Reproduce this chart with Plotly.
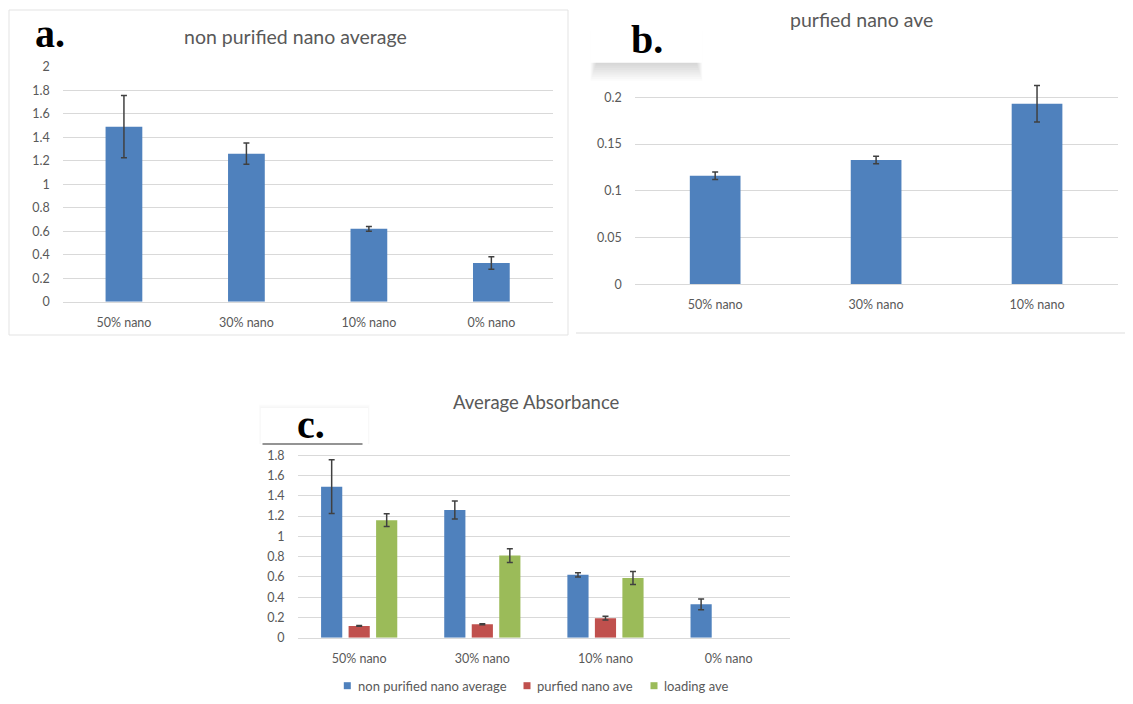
import plotly.graph_objects as go

# ---------------- data ----------------
cats4 = ["50% nano", "30% nano", "10% nano", "0% nano"]
cats3 = ["50% nano", "30% nano", "10% nano"]

non_purified_avg = [1.49, 1.26, 0.62, 0.33]
non_purified_err = [0.265, 0.09, 0.02, 0.053]

purified_avg = [0.116, 0.133, 0.193]
purified_err = [0.004, 0.004, 0.0195]

purified_avg_c = [0.116, 0.133, 0.193, None]
purified_err_c = [0.004, 0.004, 0.0195, None]

loading_avg = [1.16, 0.81, 0.59, None]
loading_err = [0.063, 0.067, 0.064, None]

series_names = ["non purified nano average", "purfied nano ave", "loading ave"]
titles = ["non purified nano average", "purfied nano ave", "Average Absorbance"]
panel_labels = ["a.", "b.", "c."]

# ---------------- style ----------------
W, H = 1133, 704
OFF = 8  # page body margin
BLUE, RED, GREEN = "#4F81BD", "#C0504D", "#9BBB59"
GRID = "#D9D9D9"
TXT = "#595959"
ERR = "#404040"
FONT = "Lato"
SERIF = "Liberation Serif"


def px(x):
    return (x - OFF) / W


def py(y):
    return 1 - (y - OFF) / H


def err(arr, width=3):
    return dict(type="data", array=arr, visible=True, color=ERR, thickness=1.5, width=width)


fig = go.Figure()

# panel a
fig.add_trace(go.Bar(x=cats4, y=non_purified_avg, error_y=err(non_purified_err), marker_color=BLUE,
                     width=0.30, xaxis="x", yaxis="y", showlegend=False, name=series_names[0]))
# panel b
fig.add_trace(go.Bar(x=cats3, y=purified_avg, error_y=err(purified_err), marker_color=BLUE,
                     width=0.315, xaxis="x2", yaxis="y2", showlegend=False, name=series_names[1]))
# panel c
fig.add_trace(go.Bar(x=cats4, y=non_purified_avg, error_y=err(non_purified_err), marker_color=BLUE,
                     xaxis="x3", yaxis="y3", showlegend=False, name=series_names[0]))
fig.add_trace(go.Bar(x=cats4, y=purified_avg_c, error_y=err(purified_err_c), marker_color=RED,
                     xaxis="x3", yaxis="y3", showlegend=False, name=series_names[1]))
fig.add_trace(go.Bar(x=cats4, y=loading_avg, error_y=err(loading_err), marker_color=GREEN,
                     xaxis="x3", yaxis="y3", showlegend=False, name=series_names[2]))
fig.update_traces(marker_line_width=0)

tickfont = dict(family=FONT, size=12.5, color=TXT)


def xax(x0, x1, anchor):
    return dict(domain=[px(x0), px(x1)], anchor=anchor, showgrid=False, showline=True,
                linecolor=GRID, linewidth=1, tickfont=tickfont, ticks="", ticklabelstandoff=9,
                fixedrange=True, zeroline=False, automargin=False)


def yax(y0, y1, rng, dt, anchor):
    return dict(domain=[py(y1), py(y0)], anchor=anchor, range=rng, dtick=dt, tick0=0,
                showgrid=True, gridcolor=GRID, gridwidth=1, zeroline=False, showline=False,
                tickfont=tickfont, ticks="", ticklabelstandoff=12, fixedrange=True, automargin=False)


fig.update_layout(
    width=W, height=H, margin=dict(l=0, r=0, t=0, b=0),
    paper_bgcolor="white", plot_bgcolor="white",
    barmode="group", bargap=0.33, bargroupgap=0.23,
    xaxis=xax(62.7, 552.6, "y"),
    yaxis=yax(66.7, 301.7, [0, 2], 0.2, "x"),
    xaxis2=xax(634.7, 1117.5, "y2"),
    yaxis2=yax(50.5, 284.3, [0, 0.25], 0.05, "x2"),
    xaxis3=xax(297.6, 790.2, "y3"),
    yaxis3=yax(435, 637.7, [0, 2], 0.2, "x3"),
    showlegend=False,
)

shapes = []
annotations = []

# panel a border
shapes.append(dict(type="rect", xref="paper", yref="paper", x0=px(9), x1=px(568), y0=py(335), y1=py(10),
                   line=dict(color="#E3E3E3", width=1), fillcolor="rgba(0,0,0,0)", layer="below"))
# panel b bottom border
shapes.append(dict(type="line", xref="paper", yref="paper", x0=px(576), x1=px(1133), y0=py(333), y1=py(333),
                   line=dict(color="#E8E8E8", width=1.5)))

# b. box soft shadow + box
bx0, by0, bx1, by1 = 590.5, 26.7, 702.4, 62.7
for i in range(1, 11):
    shapes.append(dict(type="rect", xref="paper", yref="paper", x0=px(bx0 + 6 - i * 0.6), x1=px(bx1 - 6 + i * 0.6),
                       y0=py(by1 + i * 1.8), y1=py(by0 + 4), line=dict(width=0),
                       fillcolor="rgba(0,0,0,0.014)", layer="above"))
shapes.append(dict(type="rect", xref="paper", yref="paper", x0=px(bx0), x1=px(bx1), y0=py(by1), y1=py(by0),
                   line=dict(width=0), fillcolor="white", layer="above"))

# c. box shadow + box
cx0, cy0, cx1, cy1 = 260.7, 408, 368, 444
for i in range(1, 4):
    shapes.append(dict(type="rect", xref="paper", yref="paper", x0=px(cx0 - i * 0.6), x1=px(cx1 + i * 0.6),
                       y0=py(cy1), y1=py(cy0 - i * 1.2), line=dict(width=0),
                       fillcolor="rgba(0,0,0,0.012)", layer="above"))
shapes.append(dict(type="rect", xref="paper", yref="paper", x0=px(cx0), x1=px(cx1), y0=py(cy1), y1=py(cy0),
                   line=dict(width=0), fillcolor="white", layer="above"))
shapes.append(dict(type="line", xref="paper", yref="paper", x0=px(262.5), x1=px(362.5), y0=py(444), y1=py(444),
                   line=dict(color="#707070", width=1.5), layer="above"))

# titles
for (tx, ty), t, fs in zip([(295, 36), (861, 19), (536, 402)], titles, [19.5, 19.5, 18.5]):
    annotations.append(dict(text=t, x=px(tx), y=py(ty), xref="paper", yref="paper", showarrow=False,
                            xanchor="center", yanchor="middle",
                            font=dict(family=FONT, size=fs, color=TXT)))

# panel labels
for (lx, ly), t in zip([(50, 33), (647, 40), (311, 424)], panel_labels):
    annotations.append(dict(text="<b>" + t + "</b>", x=px(lx), y=py(ly), xref="paper", yref="paper",
                            showarrow=False, xanchor="center", yanchor="middle",
                            font=dict(family=SERIF, size=40, color="black")))

# manual legend for panel c
leg_y = 685.7
for sq_x, tx_x, col, name in zip([347.3, 527, 654], [355.5, 535, 662], [BLUE, RED, GREEN], series_names):
    shapes.append(dict(type="rect", xref="paper", yref="paper", x0=px(sq_x - 3.5), x1=px(sq_x + 3.5),
                       y0=py(leg_y + 3.5), y1=py(leg_y - 3.5), line=dict(width=0), fillcolor=col))
    annotations.append(dict(text=name, x=px(tx_x), y=py(leg_y), xref="paper", yref="paper", showarrow=False,
                            xanchor="left", yanchor="middle", font=dict(family=FONT, size=13, color=TXT)))

fig.update_layout(shapes=shapes, annotations=annotations)

fig.write_html("out.html")
